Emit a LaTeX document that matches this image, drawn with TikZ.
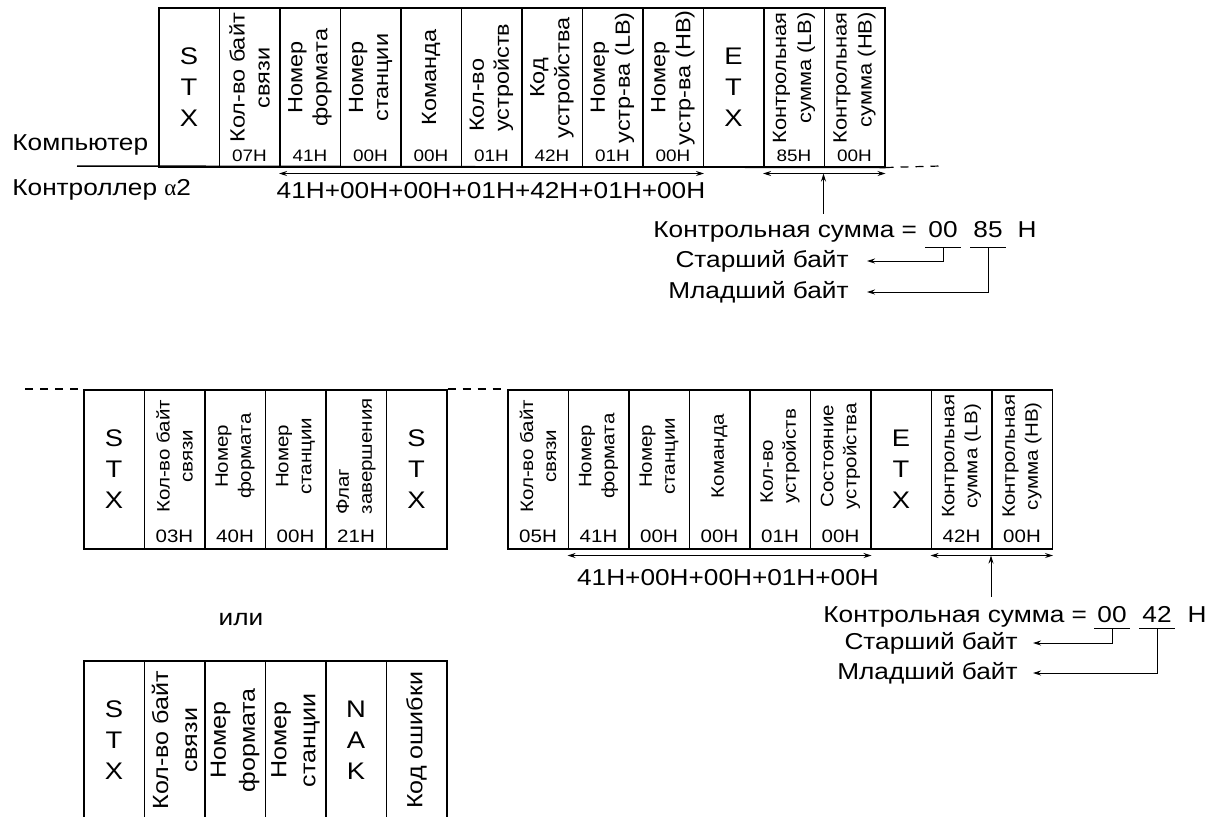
\documentclass[tikz,border=0pt]{standalone}
\usepackage{fontspec}
\setmainfont[FakeStretch=1.14]{Liberation Sans}
\newfontfamily\grk{Liberation Serif}
\usetikzlibrary{arrows.meta}

\tikzset{
  cell/.style={draw, line width=0.75pt, minimum width=30.25pt, minimum height=79.5pt, anchor=north west, inner sep=0pt},
  lbl/.style={rotate=90, inner sep=0pt, font=\fontsize{10.3}{12.5}\selectfont},
  lblc/.style={lbl, align=center},
  lbll/.style={lbl, align=left},
  lblr/.style={lbl, align=right, font=\fontsize{9.6}{12.5}\selectfont},
  ctl/.style={align=center, inner sep=0pt, font=\fontsize{12}{15.5}\selectfont},
  val/.style={inner sep=0pt, font=\fontsize{8.3}{10}\selectfont},
  big/.style={inner sep=0pt, font=\fontsize{11.5}{14}\selectfont},
  hex/.style={big, inner xsep=1.5pt},
  rng/.style={{Stealth[length=4pt,width=2.5pt]}-{Stealth[length=4pt,width=2.5pt]}, line width=0.5pt},
  ptr/.style={-{Stealth[length=4pt,width=2.5pt]}, line width=0.5pt},
  dsh/.style={line width=0.6pt, dash pattern=on 4pt off 3.5pt}
}

\begin{document}
\begin{tikzpicture}[x=0.5pt, y=-0.5pt]
\useasboundingbox (0,0) rectangle (1219,816);
\clip (0,0) rectangle (1219,816);

% computer -> controller frame
\foreach \k/\txt/\val [count=\i] in {s/{S\\T\\X}/{}, c/{Кол-во байт\\связи}/07H, c/{Номер\\формата}/41H, c/{Номер\\станции}/00H, c/{Команда}/00H, l/{Кол-во\\устройств}/01H, c/{Код\\устройства}/42H, c/{Номер\\устр-ва (LB)}/01H, c/{Номер\\устр-ва (HB)}/00H, s/{E\\T\\X}/{}, r/{Контрольная\\сумма (LB)}/85H, r/{Контрольная\\сумма (HB)}/00H}{
  \node[cell] (t\i) at ({158+60.5*(\i-1)},7) {};
  \if\k s
    \node[ctl] (tl\i) at (t\i.center) {\txt};
  \else
    \node[lbl\k] (tl\i) at ([yshift=4.75pt]t\i.center) {\txt};
    \node[val] (tv\i) at ([yshift=6pt]t\i.south) {\val};
  \fi
}
\node[big, anchor=base west] (pc) at (12,150) {Компьютер};
\node[big, anchor=base west] (plc) at (12,195) {Контроллер {\grk α}2};
\coordinate (lineL) at (77,166);
\coordinate (lineR) at (940,166);
\draw[line width=0.75pt] (lineL) -- (t12.south east);
\draw[dsh] (t12.south east) -- (lineR);

\draw[rng] ([yshift=-3pt]t3.south west) -- ([yshift=-3pt]t9.south east);
\node[big] (sumT) at (491,191) {41H+00H+00H+01H+42H+01H+00H};
\draw[rng] ([yshift=-3pt]t11.south west) -- ([yshift=-3pt]t12.south east);
\draw[ptr] ([yshift=-23pt]t12.south west) -- ([yshift=-3pt]t12.south west);

\node[big, anchor=base west] (csT) at (653,237) {Контрольная сумма =};
\node[hex, anchor=base] (hiT) at (943,237) {00};
\node[hex, anchor=base] (loT) at (988,237) {85};
\node[big, anchor=base] (hT) at (1027,237) {H};
\draw[line width=0.5pt] ([yshift=-5pt]hiT.base west) -- ([yshift=-5pt]hiT.base east);
\draw[line width=0.5pt] ([yshift=-5pt]loT.base west) -- ([yshift=-5pt]loT.base east);
\node[big, anchor=east, inner xsep=9pt] (stT) at (867,261) {Старший байт};
\node[big, anchor=east, inner xsep=9pt] (mlT) at (867,292) {Младший байт};
\draw[ptr] ([yshift=-5pt]hiT.base) |- (stT.east);
\draw[ptr] ([yshift=-5pt]loT.base) |- (mlT.east);

% controller -> computer frames
\begin{scope}[lbl/.append style={font=\fontsize{9}{11.5}\selectfont}, val/.append style={font=\fontsize{9}{10}\selectfont}]
\foreach \k/\txt/\val [count=\i] in {s/{S\\T\\X}/{}, c/{Кол-во байт\\связи}/03H, c/{Номер\\формата}/40H, c/{Номер\\станции}/00H, l/{Флаг\\завершения}/21H, s/{S\\T\\X}/{}}{
  \node[cell] (m\i) at ({83+60.5*(\i-1)},389) {};
  \if\k s
    \node[ctl] (ml\i) at (m\i.center) {\txt};
  \else
    \node[lbl\k] (ml\i) at ([yshift=6.5pt]m\i.center) {\txt};
    \node[val] (mv\i) at ([yshift=6.5pt]m\i.south) {\val};
  \fi
}
\foreach \k/\txt/\val [count=\i] in {c/{Кол-во байт\\связи}/05H, c/{Номер\\формата}/41H, c/{Номер\\станции}/00H, c/{Команда}/00H, l/{Кол-во\\устройств}/01H, c/{Состояние\\устройства}/00H, s/{E\\T\\X}/{}, c/{Контрольная\\сумма (LB)}/42H, c/{Контрольная\\сумма (HB)}/00H}{
  \node[cell] (r\i) at ({507+60.5*(\i-1)},389) {};
  \if\k s
    \node[ctl] (rl\i) at (r\i.center) {\txt};
  \else
    \node[lbl\k] (rl\i) at ([yshift=6.5pt]r\i.center) {\txt};
    \node[val] (rv\i) at ([yshift=6.5pt]r\i.south) {\val};
  \fi
}
\end{scope}
\coordinate (dashL) at (25,389);
\draw[dsh] (dashL) -- (m1.north west);
\draw[dsh] (m6.north east) -- (r1.north west);

\draw[rng] ([yshift=-3pt]r2.south west) -- ([yshift=-3pt]r6.south east);
\node[big] (sumB) at (728,578) {41H+00H+00H+01H+00H};
\draw[rng] ([yshift=-3pt]r8.south west) -- ([yshift=-3pt]r9.south east);
\draw[ptr] ([yshift=-23.5pt]r9.south west) -- ([yshift=-3pt]r9.south west);

\node[big, anchor=base west] (csB) at (823,622) {Контрольная сумма =};
\node[hex, anchor=base] (hiB) at (1112,622) {00};
\node[hex, anchor=base] (loB) at (1157,622) {42};
\node[big, anchor=base] (hB) at (1197,622) {H};
\draw[line width=0.5pt] ([yshift=-3pt]hiB.base west) -- ([yshift=-3pt]hiB.base east);
\draw[line width=0.5pt] ([yshift=-3pt]loB.base west) -- ([yshift=-3pt]loB.base east);
\node[big, anchor=east, inner xsep=7.5pt] (stB) at (1033,643) {Старший байт};
\node[big, anchor=east, inner xsep=7.5pt] (mlB) at (1033,673) {Младший байт};
\draw[ptr] ([yshift=-3pt]hiB.base) |- (stB.east);
\draw[ptr] ([yshift=-3pt]loB.base) |- (mlB.east);

\node[big] (ili) at (241,620) {или};

\begin{scope}[lbl/.append style={font=\fontsize{11}{14.5}\selectfont}]
\foreach \k/\txt [count=\i] in {s/{S\\T\\X}, c/{Кол-во байт\\связи}, c/{Номер\\формата}, c/{Номер\\станции}, s/{N\\A\\K}, c/{Код ошибки}}{
  \node[cell] (b\i) at ({83+60.5*(\i-1)},660) {};
  \if\k s
    \node[ctl] (bl\i) at (b\i.center) {\txt};
  \else
    \node[lbl\k] (bl\i) at (b\i.center) {\txt};
  \fi
}
\end{scope}
\end{tikzpicture}
\end{document}
